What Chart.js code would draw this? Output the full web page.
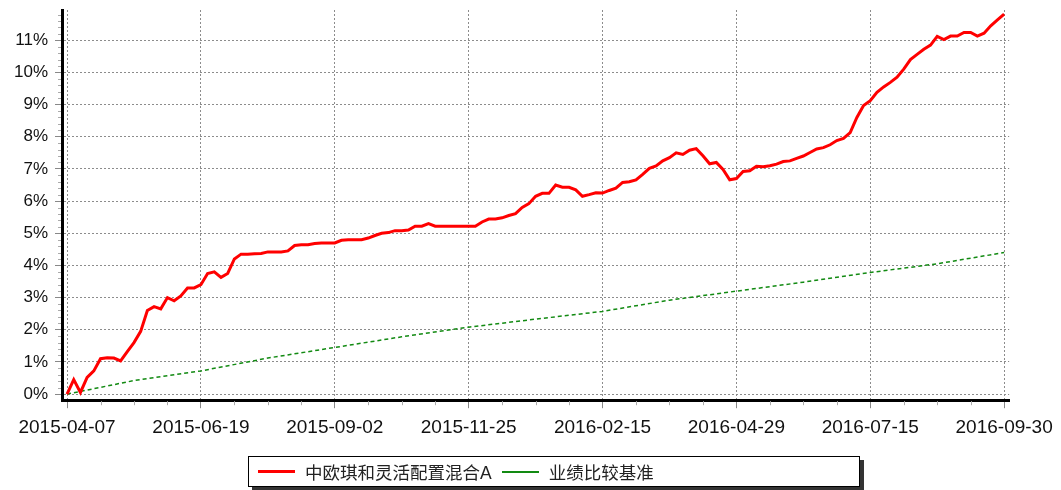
<!DOCTYPE html>
<html>
<head>
<meta charset="utf-8">
<script src="https://cdn.jsdelivr.net/npm/chart.js@4.4.0/dist/chart.umd.min.js"></script>
<style>
  body { margin: 0; background: #fff; }
  #wrap { position: relative; width: 1061px; height: 490px; }
  #legend {
    position: absolute; left: 248px; top: 456px; width: 612px; height: 31px;
    border: 1px solid #000; box-shadow: 4px 4px 0 #333; background: #fff;
    display: flex; align-items: center; padding-left: 9px; box-sizing: border-box;
    font: 17.5px "Liberation Sans", "Noto Sans CJK SC", sans-serif; color: #222;
  }
  #legend .sample { display: inline-block; width: 37px; margin-right: 10px; }
  #legend .text { margin-right: 10px; }
</style>
</head>
<body>
<div id="wrap">
  <canvas id="chart" width="1061" height="490"></canvas>
  <div id="legend"></div>
</div>
<script>
// date labels, one every 20 trading-day steps
const tickLabels = ['2015-04-07', '2015-06-19', '2015-09-02', '2015-11-25',
                    '2016-02-15', '2016-04-29', '2016-07-15', '2016-09-30'];
const seriesNames = ['中欧琪和灵活配置混合A', '业绩比较基准'];
const stepsPerLabel = 20;

// fund cumulative return (%), one value per step
const fundValues = [
  0.0, 0.45, 0.05, 0.52, 0.72, 1.1, 1.13, 1.12, 1.03, 1.32,
  1.6, 1.95, 2.6, 2.72, 2.65, 3.0, 2.9, 3.05, 3.3, 3.3,
  3.4, 3.75, 3.8, 3.63, 3.75, 4.2, 4.35, 4.35, 4.36, 4.37,
  4.42, 4.42, 4.42, 4.45, 4.62, 4.64, 4.64, 4.68, 4.7, 4.7,
  4.7, 4.78, 4.8, 4.8, 4.8, 4.85, 4.93, 5.0, 5.02, 5.08,
  5.08, 5.1, 5.22, 5.22, 5.3, 5.22, 5.22, 5.22, 5.22, 5.22,
  5.22, 5.22, 5.35, 5.44, 5.44, 5.48, 5.55, 5.61, 5.8, 5.92,
  6.15, 6.24, 6.24, 6.5, 6.43, 6.43, 6.35, 6.15, 6.2, 6.26,
  6.25, 6.33, 6.4, 6.58, 6.6, 6.66, 6.83, 7.02, 7.09, 7.25,
  7.35, 7.5, 7.45, 7.58, 7.63, 7.41, 7.16, 7.2, 6.98, 6.66,
  6.7, 6.92, 6.94, 7.08, 7.07, 7.1, 7.15, 7.23, 7.25, 7.33,
  7.4, 7.51, 7.62, 7.66, 7.75, 7.88, 7.95, 8.13, 8.6, 8.97,
  9.12, 9.38, 9.55, 9.69, 9.85, 10.1, 10.4, 10.56, 10.72, 10.85,
  11.12, 11.02, 11.13, 11.13, 11.24, 11.24, 11.13, 11.22, 11.45, 11.63,
  11.81
];

// benchmark (%), one value every 10 steps
const benchEvery = 10;
const benchValues = [0.0, 0.42, 0.72, 1.12, 1.45, 1.78, 2.08, 2.33, 2.57, 2.92, 3.2, 3.48, 3.78, 4.05, 4.4];

const lastStep = (tickLabels.length - 1) * stepsPerLabel;

Chart.defaults.font.family = "'Liberation Sans', Arial, sans-serif";
Chart.defaults.color = '#111';

// small unlabelled ticks on both axes
const minorTicks = {
  id: 'minorTicks',
  afterDraw(chart) {
    const {ctx, chartArea, scales: {x, y}} = chart;
    ctx.save();
    ctx.strokeStyle = '#aaa';
    ctx.lineWidth = 1;
    ctx.beginPath();
    for (let k = 1; k < 60; k++) {
      if (k % 5 === 0) continue;
      const py = Math.round(y.getPixelForValue(k / 5)) + 0.5;
      ctx.moveTo(chartArea.left - 4, py);
      ctx.lineTo(chartArea.left - 1, py);
    }
    for (let k = 5; k < lastStep; k += 5) {
      if (k % stepsPerLabel === 0) continue;
      const px = Math.round(x.getPixelForValue(k)) + 0.5;
      ctx.moveTo(px, chartArea.bottom + 1);
      ctx.lineTo(px, chartArea.bottom + 5);
    }
    ctx.stroke();
    ctx.restore();
  }
};

const chart = new Chart(document.getElementById('chart'), {
  type: 'line',
  data: {
    datasets: [
      {
        label: seriesNames[0],
        data: fundValues.map((v, i) => ({x: i, y: v})),
        borderColor: '#ff0000',
        borderWidth: 3,
        pointRadius: 0,
        tension: 0
      },
      {
        label: seriesNames[1],
        data: benchValues.map((v, i) => ({x: i * benchEvery, y: v})),
        borderColor: '#128a12',
        borderWidth: 1.5,
        borderDash: [4, 3],
        pointRadius: 0,
        tension: 0
      }
    ]
  },
  options: {
    responsive: false,
    animation: false,
    layout: {padding: {left: 7, right: 51, top: 10, bottom: 43}},
    plugins: {legend: {display: false}, tooltip: {enabled: false}},
    scales: {
      x: {
        type: 'linear',
        min: -0.75,
        max: lastStep + 0.75,
        afterBuildTicks: s => { s.ticks = tickLabels.map((t, i) => ({value: i * stepsPerLabel})); },
        ticks: {
          autoSkip: false,
          maxRotation: 0,
          padding: 8,
          font: {size: 19},
          callback: v => tickLabels[v / stepsPerLabel]
        },
        grid: {
          color: '#8c8c8c',
          tickLength: 8,
          tickColor: '#888',
          tickBorderDash: []
        },
        border: {color: '#000', width: 3, dash: [2, 2]}
      },
      y: {
        min: -0.19,
        max: 11.94,
        afterBuildTicks: s => {
          const t = [];
          for (let v = 0; v <= 11; v++) t.push({value: v});
          s.ticks = t;
        },
        // top label sits well below the axis end, no extra room needed
        afterFit: s => { s.paddingTop = 0; },
        ticks: {
          padding: 7,
          font: {size: 17},
          callback: v => v + '%'
        },
        grid: {
          color: '#8c8c8c',
          tickLength: 7,
          tickColor: '#888',
          tickBorderDash: []
        },
        border: {color: '#000', width: 3, dash: [2, 2]}
      }
    }
  },
  plugins: [minorTicks]
});

// html legend built from the datasets
const legend = document.getElementById('legend');
chart.data.datasets.forEach((ds, i) => {
  const sample = document.createElement('span');
  sample.className = 'sample';
  sample.style.borderTop = (i === 0 ? 3 : 2) + 'px solid ' + ds.borderColor;
  const text = document.createElement('span');
  text.className = 'text';
  text.textContent = ds.label;
  legend.appendChild(sample);
  legend.appendChild(text);
});
</script>
</body>
</html>
